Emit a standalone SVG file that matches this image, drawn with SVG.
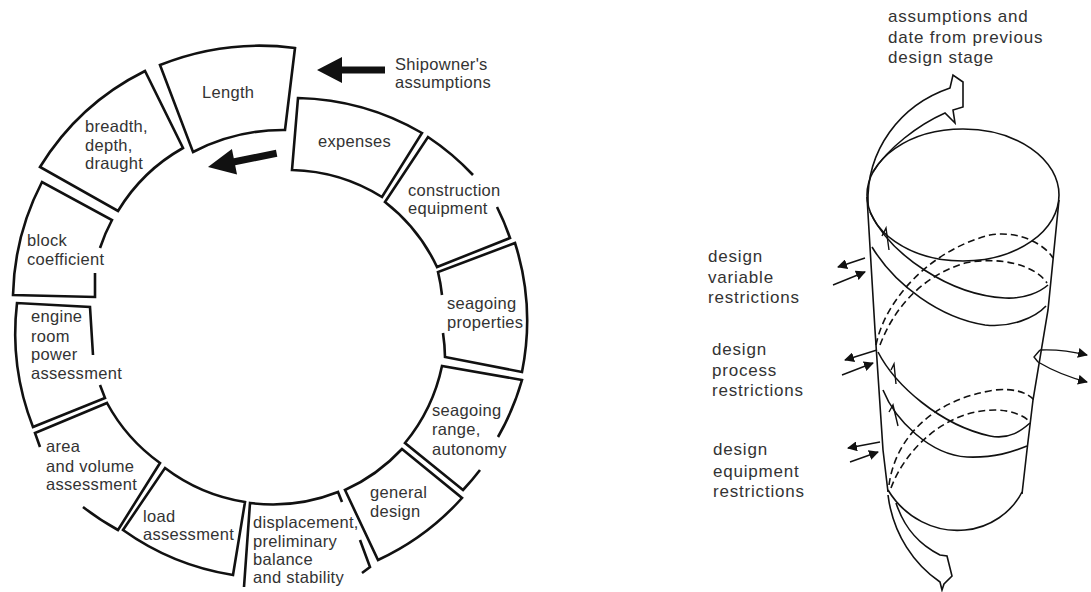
<svg xmlns="http://www.w3.org/2000/svg" width="1091" height="592" viewBox="0 0 1091 592">
<style>
.box{fill:none;stroke:#111;stroke-width:2.6;stroke-linejoin:miter}
.lt{font-family:"Liberation Sans",Arial,sans-serif;font-size:16.5px;letter-spacing:0.3px;fill:#333}
.rt{font-family:"Liberation Sans",Arial,sans-serif;font-size:17px;letter-spacing:0.8px;fill:#333}
.cy{fill:none;stroke:#111;stroke-width:1.6}
.dash{fill:none;stroke:#111;stroke-width:1.6;stroke-dasharray:7 4}
.sm{fill:none;stroke:#111;stroke-width:1.4}
</style>
<defs>
<marker id="ah" viewBox="0 0 10 10" refX="9" refY="5" markerWidth="10" markerHeight="10" markerUnits="userSpaceOnUse" orient="auto">
<path d="M0,0 L10,5 L0,10 Z" fill="#111"/>
</marker>
</defs>
<rect width="1091" height="592" fill="#fff"/>

<g id="length">
<path class="box" d="M160,65 A270 270 0 0 1 295,48 L285,130 A195 195 0 0 0 193,152 Z"/>
<text class="lt" x="202" y="98">Length</text>
</g>
<g id="expenses">
<path class="box" d="M298,98 A258 258 0 0 1 422,133 L382,197 A178 178 0 0 0 292,170 Z"/>
<text class="lt" x="318" y="147">expenses</text>
</g>
<g id="construction">
<path class="box" d="M473,175 A258 258 0 0 0 428,137 L385,202 A178 178 0 0 1 437,267 L510,238 A258 258 0 0 0 497,207"/>
<text class="lt" x="408" y="196">construction</text>
<text class="lt" x="408" y="214">equipment</text>
</g>
<g id="seagoing-properties">
<path class="box" d="M443,333 A178 178 0 0 1 445,357 L522,372 A258 258 0 0 0 515,243 L438,272 A178 178 0 0 1 442,295"/>
<text class="lt" x="447" y="309">seagoing</text>
<text class="lt" x="447" y="328">properties</text>
</g>
<g id="seagoing-range">
<path class="box" d="M498,437 A258 258 0 0 0 522,380 L442,366 A178 178 0 0 1 405,443 L463,490 A258 258 0 0 0 480,470"/>
<text class="lt" x="432" y="416">seagoing</text>
<text class="lt" x="432" y="435">range,</text>
<text class="lt" x="432" y="455">autonomy</text>
</g>
<g id="general-design">
<path class="box" d="M462,498 A258 258 0 0 1 378,560 L345,490 A178 178 0 0 0 402,449 Z"/>
<text class="lt" x="370" y="498">general</text>
<text class="lt" x="370" y="517">design</text>
</g>
<g id="displacement">
<path class="box" d="M244,587 L250,503 A178 178 0 0 0 338,492 L342,502"/>
<path class="box" d="M360,540 L370,567 L362,573"/>
<text class="lt" x="253" y="528">displacement,</text>
<text class="lt" x="253" y="547">preliminary</text>
<text class="lt" x="253" y="565">balance</text>
<text class="lt" x="253" y="583">and stability</text>
</g>
<g id="load">
<path class="box" d="M233,575 A258 258 0 0 1 123,530 L165,468 A178 178 0 0 0 245,502 Z"/>
<text class="lt" x="143" y="522">load</text>
<text class="lt" x="143" y="540">assessment</text>
</g>
<g id="area">
<path class="box" d="M83,507 A258 258 0 0 0 118,530 L160,463 A178 178 0 0 1 107,403 L35,433 L40,447"/>
<text class="lt" x="46" y="452">area</text>
<text class="lt" x="46" y="472">and volume</text>
<text class="lt" x="46" y="490">assessment</text>
</g>
<g id="engine">
<path class="box" d="M93,355 L90,307 L17,303 A258 258 0 0 0 33,427 L105,398 L100,385"/>
<text class="lt" x="31" y="322">engine</text>
<text class="lt" x="31" y="342">room</text>
<text class="lt" x="31" y="360">power</text>
<text class="lt" x="31" y="379">assessment</text>
</g>
<g id="block">
<path class="box" d="M95,273 L95,297 L13,295 A258 258 0 0 1 42,182 L112,220 A178 178 0 0 0 100,248"/>
<text class="lt" x="27" y="246">block</text>
<text class="lt" x="27" y="265">coefficient</text>
</g>
<g id="breadth">
<path class="box" d="M40,167 A258 258 0 0 1 145,71 L183,148 A178 178 0 0 0 118,211 Z"/>
<text class="lt" x="85" y="132">breadth,</text>
<text class="lt" x="85" y="151">depth,</text>
<text class="lt" x="85" y="169">draught</text>
</g>
<g id="shipowner">
<text class="lt" x="395" y="70">Shipowner's</text>
<text class="lt" x="395" y="88">assumptions</text>
</g>

<g id="connectors">
<polygon fill="#111" points="317,70 342,57 342,66.5 385,66.5 385,73.5 342,73.5 342,83"/>
<polygon fill="#111" transform="translate(208,167) rotate(-11.3)" points="0,0 27,-13 27,-3.5 70,-3.5 70,3.5 27,3.5 27,13"/>
<line class="sm" x1="865" y1="258" x2="838" y2="267" marker-end="url(#ah)"/>
<line class="sm" x1="833" y1="285" x2="865" y2="272" marker-end="url(#ah)"/>
<line class="sm" x1="877" y1="350" x2="845" y2="360" marker-end="url(#ah)"/>
<line class="sm" x1="842" y1="375" x2="873" y2="363" marker-end="url(#ah)"/>
<line class="sm" x1="880" y1="442" x2="848" y2="448" marker-end="url(#ah)"/>
<line class="sm" x1="850" y1="462" x2="878" y2="452" marker-end="url(#ah)"/>
<path class="sm" d="M1040,350 Q1062,349 1087,355" marker-end="url(#ah)"/>
<path class="sm" d="M1038,362 Q1060,375 1087,382" marker-end="url(#ah)"/>
<path class="sm" d="M1040,350 L1034,357 L1038,362"/>
</g>

<g id="cylinder">
<ellipse class="cy" cx="963" cy="195" rx="96" ry="66"/>
<polyline class="cy" points="867,197 875,330 883,450 888,492"/>
<polyline class="cy" points="1059,200 1048,310 1033,400 1027,450 1022,494"/>
<path class="cy" d="M888,490 C905,518 935,533 965,530 C990,528 1012,512 1022,492"/>
<path class="cy" d="M868,205 C866,150 900,105 950,88 L953,75 L963,82 L963,107 L953,110 L955,123 L945,113 C918,125 888,148 873,172"/>
<path class="cy" d="M870,212 C890,255 950,295 1005,298 C1025,299 1040,292 1048,285"/>
<path class="cy" d="M872,247 C895,285 940,318 985,325 C1010,328 1035,318 1046,306"/>
<path class="cy" d="M878,352 C895,385 940,425 990,436 C1010,440 1022,430 1030,423"/>
<path class="cy" d="M883,390 C895,420 930,455 967,457 C995,458 1012,452 1027,446"/>
<path class="dash" d="M876,345 C885,300 930,250 990,235 C1020,230 1045,245 1053,258"/>
<path class="dash" d="M880,345 C895,305 925,275 965,263 C1000,256 1035,265 1047,283"/>
<path class="dash" d="M889,485 C895,440 930,400 995,390 C1015,388 1028,393 1034,400"/>
<path class="dash" d="M891,488 C905,450 945,410 995,410 C1010,410 1022,415 1028,420"/>
<path class="sm" d="M882,236 L886,228 L889,250"/>
<path class="sm" d="M891,370 L894,364 L896,384"/>
<path class="sm" d="M889,412 L893,405 L898,426"/>
<path class="cy" d="M888,495 C893,535 915,565 940,582 L942,590 L944,584 L952,576 L947,556 L940,555 C920,545 905,530 896,503"/>
</g>

<g id="labels-right">
<text class="rt" x="888" y="22">assumptions and</text>
<text class="rt" x="888" y="43">date from previous</text>
<text class="rt" x="888" y="63">design stage</text>
<text class="rt" x="708" y="262">design</text>
<text class="rt" x="708" y="283">variable</text>
<text class="rt" x="708" y="303">restrictions</text>
<text class="rt" x="712" y="355">design</text>
<text class="rt" x="712" y="376">process</text>
<text class="rt" x="712" y="396">restrictions</text>
<text class="rt" x="713" y="455">design</text>
<text class="rt" x="713" y="477">equipment</text>
<text class="rt" x="713" y="497">restrictions</text>
</g>
</svg>
